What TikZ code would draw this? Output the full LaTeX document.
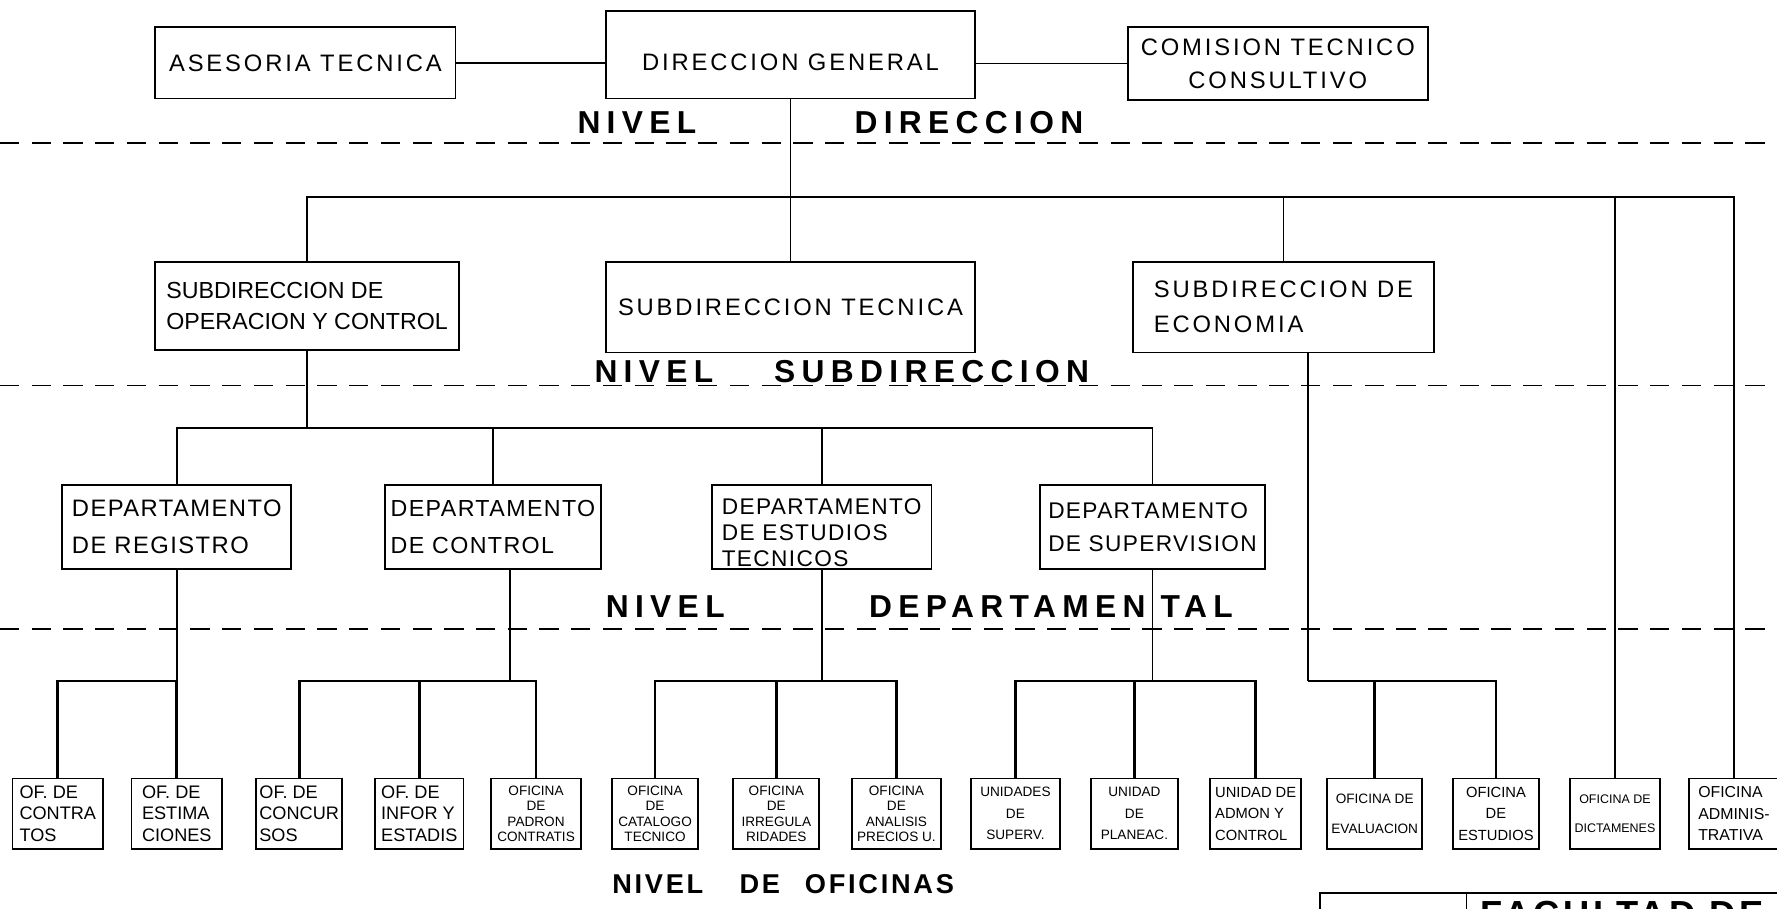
\documentclass[tikz,border=0pt]{standalone}
\usepackage{fontspec}
\setmainfont{Liberation Sans}
\newfontfamily\nivfont[LetterSpace=20]{Liberation Sans}
\newfontfamily\boxfont[LetterSpace=12]{Liberation Sans}
\newfontfamily\depfont[LetterSpace=6]{Liberation Sans}
\newfontfamily\titfont[LetterSpace=10]{Liberation Sans}
\usetikzlibrary{positioning}

\begin{document}
\begin{tikzpicture}[x=1pt,y=-1pt,
        box/.style = {draw, line width=1.6pt, inner sep=2pt, font=\boxfont\fontsize{21}{29}\selectfont},
        dep/.style = {box, minimum height=74pt, align=left, font=\depfont\fontsize{21}{33}\selectfont},
        ofic/.style = {draw, line width=1.6pt, inner sep=1pt, minimum width=78pt, minimum height=62pt, align=left, font=\fontsize{16}{19}\selectfont},
        ofsmall/.style = {ofic, align=center, font=\fontsize{12}{13.5}\selectfont},
        conn/.style = {line width=1.6pt},
        bus/.style = {line width=2.4pt},
        level/.style = {line width=1.3pt, dash pattern=on 17pt off 11pt},
        nivel/.style = {inner sep=0pt, font=\nivfont\bfseries\fontsize{28}{28}\selectfont},]
        \useasboundingbox (0,0) rectangle (1568,802);

        % nivel direccion
        \node[box, minimum width=265pt, minimum height=63pt] (ase) at (269.5,55.5) {ASESORIA TECNICA};
        \node[box, minimum width=325pt, minimum height=77pt] (dg) at (697.5,48.5) {\rule{0pt}{28pt}DIRECCION GENERAL};
        \node[box, minimum width=265pt, minimum height=64pt, align=center] (com) at (1127.5,56) {COMISION TECNICO\\CONSULTIVO};
        \node[nivel] (nd1) at (562,108) {NIVEL};
        \node[nivel] (nd2) at (855,108) {DIRECCION};
        \draw[level] (0,126) -- (1568,126);

        \coordinate (busA) at (0,174);
        \coordinate (busB) at (0,378);
        \coordinate (busC) at (0,601);

        % nivel subdireccion
        \node[box, minimum width=268pt, minimum height=78pt, align=left, font=\fontsize{20.5}{28}\selectfont] (sop) at (271,270) {SUBDIRECCION DE\\OPERACION Y CONTROL};
        \node[box, minimum width=325pt, minimum height=80pt] (stec) at (697.5,271) {SUBDIRECCION TECNICA};
        \node[box, minimum width=265pt, minimum height=80pt, align=left, font=\boxfont\fontsize{21}{31}\selectfont] (seco) at (1132.5,271) {SUBDIRECCION DE\\ECONOMIA};
        \node[nivel] (ns1) at (577,328) {NIVEL};
        \node[nivel] (ns2) at (822,328) {SUBDIRECCION};
        \draw[level] (0,340) -- (1568,340);

        % nivel departamental
        \node[dep, minimum width=202pt] (dreg) at (156,465) {DEPARTAMENTO\\DE REGISTRO};
        \node[dep, minimum width=190pt, font=\depfont\fontsize{20.5}{33}\selectfont] (dcon) at (435,465) {DEPARTAMENTO\\DE CONTROL};
        \node[dep, minimum width=194pt, font=\depfont\fontsize{20}{23}\selectfont] (dest) at (725,465) {\rule{0pt}{24pt}DEPARTAMENTO\\DE ESTUDIOS\\TECNICOS};
        \node[dep, minimum width=198pt, font=\depfont\fontsize{20}{29}\selectfont] (dsup) at (1017,465) {DEPARTAMENTO\\DE SUPERVISION};
        \node[nivel] (nt1) at (587,535) {NIVEL};
        \node[nivel, anchor=east] (nt2) at (1011,535) {DEPARTAMEN};
        \node[nivel, anchor=west] (nt3) at (1024,535) {TAL};
        \draw[level] (0,555) -- (1568,555);

        % nivel de oficinas
        \node[ofic, minimum width=80pt] (ofa) at (51,718) {OF. DE\\CONTRA\\TOS};
        \node[ofic, minimum width=80pt] (ofb) at (156,718) {OF. DE\\ESTIMA\\CIONES};
        \node[ofic, minimum width=76pt] (ofc) at (264,718) {OF. DE\\CONCUR\\SOS};
        \node[ofic] (ofd) at (370,718) {OF. DE\\INFOR Y\\ESTADIS};
        \node[ofsmall, minimum width=80pt] (ofe) at (473,718) {OFICINA\\DE\\PADRON\\CONTRATIS};
        \node[ofsmall, minimum width=76pt] (off) at (578,718) {OFICINA\\DE\\CATALOGO\\TECNICO};
        \node[ofsmall, minimum width=76pt] (ofg) at (685,718) {OFICINA\\DE\\IRREGULA\\RIDADES};
        \node[ofsmall] (ofh) at (791,718) {OFICINA\\DE\\ANALISIS\\PRECIOS U.};
        \node[ofsmall, font=\fontsize{12}{19}\selectfont] (ofi) at (896,718) {UNIDADES\\DE\\SUPERV.};
        \node[ofsmall, minimum width=77pt, font=\fontsize{12}{19}\selectfont] (ofj) at (1001,718) {UNIDAD\\DE\\PLANEAC.};
        \node[ofic, minimum width=80pt, font=\fontsize{13}{19}\selectfont] (ofk) at (1108,718) {UNIDAD DE\\ADMON Y\\CONTROL};
        \node[ofsmall, minimum width=84pt, font=\fontsize{12}{27}\selectfont] (ofl) at (1213,718) {OFICINA DE\\EVALUACION};
        \node[ofsmall, minimum width=76pt, font=\fontsize{13}{19}\selectfont] (ofm) at (1320,718) {OFICINA\\DE\\ESTUDIOS};
        \node[ofsmall, minimum width=80pt, font=\fontsize{11}{25}\selectfont] (ofn) at (1425,718) {OFICINA DE\\DICTAMENES};
        \node[ofic, minimum width=80pt, font=\fontsize{14}{19}\selectfont] (ofo) at (1530,718) {OFICINA\\ADMINIS-\\TRATIVA};
        \node[inner sep=0pt, font=\titfont\bfseries\fontsize{24}{24}\selectfont] (no) at (691,780) {NIVEL\hspace{32pt}DE\hspace{22pt}OFICINAS};

        % lineas de mando
        \draw[conn] (ase.east) -- (ase.east -| dg.west);
        \draw[conn] (com.west) -- (com.west -| dg.east);
        \draw[conn] (dg.south) -- (dg.south |- busA);
        \draw[conn] (sop.north) |- (ofo.north |- busA) -- (ofo.north);
        \draw[conn] (stec.north) -- (stec.north |- busA);
        \draw[conn] (seco.north) -- (seco.north |- busA);
        \draw[conn] (ofn.north) -- (ofn.north |- busA);

        \draw[conn] (sop.south) -- (sop.south |- busB);
        \draw[conn] (dreg.north) |- (dsup.north |- busB) -- (dsup.north);
        \draw[conn] (dcon.north) -- (dcon.north |- busB);
        \draw[conn] (dest.north) -- (dest.north |- busB);

        \draw[conn] (dreg.south) -- (dreg.south |- busC);
        \draw[conn] ([xshift=15pt]dcon.south) -- ([xshift=15pt]dcon.south |- busC);
        \draw[conn] (dest.south) -- (dest.south |- busC);
        \draw[conn] (dsup.south) -- (dsup.south |- busC);
        \draw[conn] ([xshift=22pt]seco.south) -- ([xshift=22pt]seco.south |- busC);

        \draw[bus] (ofa.north) |- (ofb.north |- busC) -- (ofb.north);
        \draw[bus] (ofc.north) |- (ofe.north |- busC) -- (ofe.north);
        \draw[bus] (ofd.north) -- (ofd.north |- busC);
        \draw[bus] (off.north) |- (ofh.north |- busC) -- (ofh.north);
        \draw[bus] (ofg.north) -- (ofg.north |- busC);
        \draw[bus] (ofi.north) |- (ofk.north |- busC) -- (ofk.north);
        \draw[bus] (ofj.north) -- (ofj.north |- busC);
        \draw[bus] ([xshift=22pt]seco.south |- busC) -| (ofm.north);
        \draw[bus] (ofl.north) -- (ofl.north |- busC);

        % cuadro de titulo
        \draw[conn] (1165,832) |- (1580,788);
        \draw[conn] (1294,788) -- (1294,832);
        \node[inner sep=0pt, anchor=north west, font=\titfont\bfseries\fontsize{32}{32}\selectfont] (fac) at (1306,795) {FACULTAD DE};
    \end{tikzpicture}
\end{document}
